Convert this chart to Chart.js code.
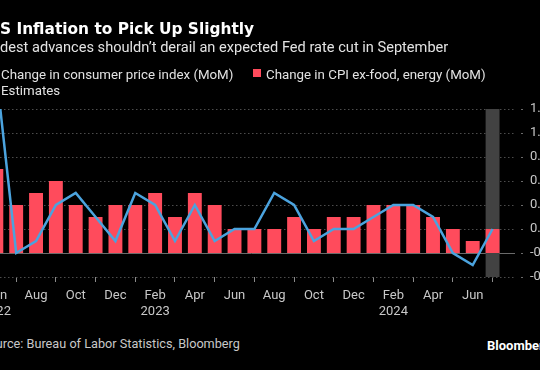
<!DOCTYPE html>
<html>
<head>
<meta charset="utf-8">
<script src="https://cdn.jsdelivr.net/npm/chart.js@4.4.1/dist/chart.umd.min.js"></script>
<style>
  html, body { margin: 0; padding: 0; background: #000; overflow: hidden; }
  body { width: 540px; height: 370px; position: relative; font-family: Roboto, sans-serif; }
  #wrap { position: absolute; left: -16px; top: 0; width: 570px; height: 370px; }
  .t { position: absolute; white-space: nowrap; line-height: 1; }
  #title { top: 22px; left: 3.5px; font-family: 'DejaVu Sans', sans-serif; font-size: 15.4px; font-weight: bold; color: #fff; }
  #subtitle { top: 40px; left: -5px; font-size: 14.6px; color: #e2e2e2; }
  .leg { font-size: 13.3px; color: #e2e2e2; }
  .mark { position: absolute; }
  #source { top: 338px; left: -3px; font-size: 12.7px; color: #c8c8c8; }
  #logo { top: 339px; left: 503px; font-size: 13px; font-weight: bold; color: #fff; }
  #box { position: absolute; left: 0; top: 0; width: 570px; height: 330px; }
</style>
</head>
<body>
<div id="wrap">
  <div id="box"><canvas id="grafico_inflacao"></canvas></div>
  <div class="t" id="title">US Inflation to Pick Up Slightly</div>
  <div class="t" id="subtitle">Modest advances shouldn’t derail an expected Fed rate cut in September</div>
  <div class="mark" style="left:2px;top:72px;width:12px;height:3px;background:#4ba3de"></div>
  <div class="t leg" style="left:17px;top:68px">Change in consumer price index (MoM)</div>
  <div class="mark" style="left:269px;top:69px;width:8px;height:8px;background:#ff4b5c"></div>
  <div class="t leg" style="left:282px;top:68px">Change in CPI ex-food, energy (MoM)</div>
  <div class="mark" style="left:5px;top:86px;width:8px;height:8px;background:#444"></div>
  <div class="t leg" style="left:17px;top:84px">Estimates</div>
  <div class="t" id="source">Source: Bureau of Labor Statistics, Bloomberg</div>
  <div class="t" id="logo">Bloomberg</div>
</div>
<script>
const meses = [
  'Jun 2022', 'Jul 2022', 'Aug 2022', 'Sep 2022', 'Oct 2022', 'Nov 2022', 'Dec 2022',
  'Jan 2023', 'Feb 2023', 'Mar 2023', 'Apr 2023', 'May 2023', 'Jun 2023',
  'Jul 2023', 'Aug 2023', 'Sep 2023', 'Oct 2023', 'Nov 2023', 'Dec 2023',
  'Jan 2024', 'Feb 2024', 'Mar 2024', 'Apr 2024', 'May 2024', 'Jun 2024', 'Jul 2024'];

// headline CPI, month over month %
const cpiMoM = [1.5, 0.0, 0.1, 0.4, 0.5, 0.3, 0.1, 0.5, 0.4, 0.1, 0.4, 0.1, 0.2,
  0.2, 0.5, 0.4, 0.1, 0.2, 0.2, 0.3, 0.4, 0.4, 0.3, 0.0, -0.1, 0.2];

// core CPI (ex-food, energy), month over month %
const coreMoM = [0.7, 0.4, 0.5, 0.6, 0.4, 0.3, 0.4, 0.4, 0.5, 0.3, 0.5, 0.4, 0.2,
  0.2, 0.2, 0.3, 0.2, 0.3, 0.3, 0.4, 0.4, 0.4, 0.3, 0.2, 0.1, 0.2];

const estimateMonth = 'Jul 2024';
const estimateRange = [-0.2, 1.2];

const tickMonths = ['Jun', 'Aug', 'Oct', 'Dec', 'Feb', 'Apr', 'Jun', 'Aug', 'Oct', 'Dec', 'Feb', 'Apr', 'Jun'];
const tickYears = ['2022', '', '', '', '2023', '', '', '', '', '', '2024', '', ''];

const yMin = -0.2, yMax = 1.2, yStep = 0.2;

// x positions of the labelled months
const tickIdx = tickMonths.map((m, i) => i * 2);

const zeroLine = {
  id: 'zeroLine',
  beforeDatasetsDraw(chart) {
    const {ctx, chartArea, scales} = chart;
    const y = Math.round(scales.y.getPixelForValue(0)) + 0.5;
    ctx.save();
    ctx.strokeStyle = '#6a6a6a';
    ctx.lineWidth = 1;
    ctx.beginPath();
    ctx.moveTo(chartArea.left, y);
    ctx.lineTo(chartArea.right, y);
    ctx.stroke();
    ctx.restore();
  }
};

Chart.defaults.font.family = 'Roboto, sans-serif';
Chart.defaults.font.size = 13;
Chart.defaults.color = '#c8c8c8';

let ctx = document.getElementById('grafico_inflacao').getContext('2d');

let graficoInflacao = new Chart(ctx, {
  type: 'bar',
  data: {
    datasets: [
      {
        type: 'line',
        label: 'Change in consumer price index (MoM)',
        data: cpiMoM.map((v, i) => ({x: i, y: v})),
        borderColor: '#4ba3de',
        borderWidth: 2.5,
        pointRadius: 0,
        tension: 0,
        order: 0
      },
      {
        label: 'Change in CPI ex-food, energy (MoM)',
        data: coreMoM.map((v, i) => ({x: i, y: v})),
        backgroundColor: '#ff4b5c',
        grouped: false,
        categoryPercentage: 1,
        barPercentage: 0.7,
        order: 1
      },
      {
        label: 'Estimates',
        data: [{x: meses.indexOf(estimateMonth), y: estimateRange}],
        backgroundColor: '#424242',
        grouped: false,
        categoryPercentage: 1,
        barPercentage: 0.7,
        order: 2
      }
    ]
  },
  options: {
    responsive: true,
    maintainAspectRatio: false,
    animation: false,
    layout: { padding: { top: 109, left: 4, right: 0, bottom: 0 } },
    plugins: { legend: { display: false }, tooltip: { enabled: false } },
    scales: {
      x: {
        type: 'linear',
        offset: false,
        min: -0.42,
        max: 26.13,
        grid: { drawOnChartArea: false, drawTicks: true, tickLength: 5, tickColor: '#8a8a8a' },
        border: { display: false },
        afterBuildTicks(scale) {
          scale.ticks = tickIdx.map(v => ({value: v}));
        },
        afterFit(scale) {
          scale.height = 53;
          scale.paddingLeft = 0;
          scale.paddingRight = 0;
        },
        ticks: {
          autoSkip: false,
          maxRotation: 0,
          padding: 6,
          callback: (v) => {
            const k = tickIdx.indexOf(v);
            return [tickMonths[k], tickYears[k]];
          }
        }
      },
      y: {
        position: 'right',
        min: yMin,
        max: yMax,
        grid: {
          color: '#4c4c4c',
          tickLength: 9,
          tickColor: '#6a6a6a',
          tickBorderDash: [2, 6],
          tickBorderDashOffset: 2
        },
        border: { display: false, dash: [1.5, 2.5] },
        afterFit(scale) {
          scale.width = 39;
        },
        ticks: {
          stepSize: yStep,
          padding: 6,
          callback: (v) => v.toFixed(1)
        }
      }
    }
  },
  plugins: [zeroLine]
});
</script>
</body>
</html>
